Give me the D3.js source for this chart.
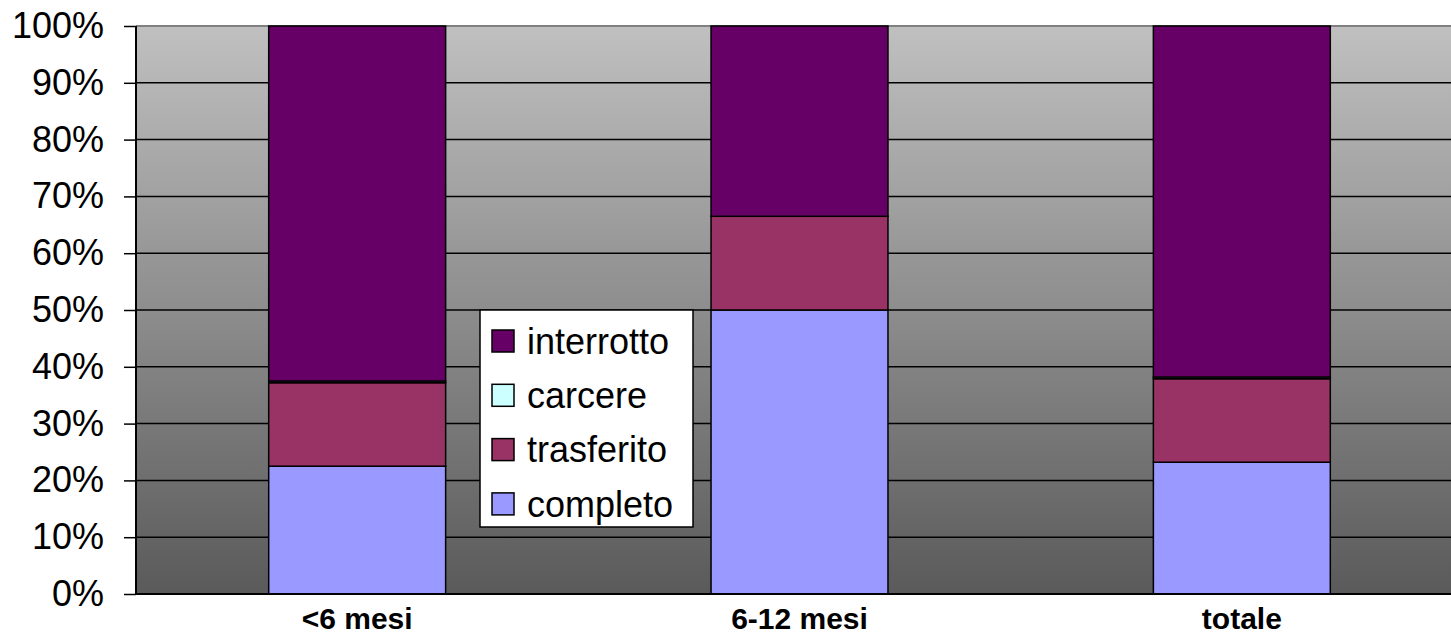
<!DOCTYPE html>
<html>
<head>
<meta charset="utf-8">
<script src="https://cdn.jsdelivr.net/npm/d3@7"></script>
<style>
  html, body { margin: 0; padding: 0; background: #fff; }
  svg { display: block; font-family: "Liberation Sans", Arial, sans-serif; }
</style>
</head>
<body>
<svg id="chart" width="1451" height="637"></svg>
<script>
(function () {
  'use strict';

  var categories = ['<6 mesi', '6-12 mesi', 'totale'];
  var completo   = [22.5, 50.0, 23.2];
  var trasferito = [14.7, 16.5, 14.7];
  var carcere    = [0.3, 0.0, 0.3];
  var interrotto = [62.5, 33.5, 61.8];
  var yTicks = [0, 10, 20, 30, 40, 50, 60, 70, 80, 90, 100];

  var SERIES = ['completo', 'trasferito', 'carcere', 'interrotto'];
  var COLOR = { completo: '#9999ff', trasferito: '#993366', carcere: '#ccffff', interrotto: '#660066' };
  var LEGEND_ORDER = ['interrotto', 'carcere', 'trasferito', 'completo'];

  var rows = categories.map(function (c, i) {
    return { cat: c, completo: completo[i], trasferito: trasferito[i], carcere: carcere[i], interrotto: interrotto[i] };
  });

  // plot area runs a little past the right edge of the picture
  var left = 136, top = 26, right = 1463, bottom = 594;
  var svg = d3.select('#chart');

  var x = d3.scaleBand().domain(categories).range([left, right]).paddingInner(0.6).paddingOuter(0.3);
  var y = d3.scaleLinear().domain([0, 100]).range([bottom, top]);

  // ── Plot background ─────────────────────────────────────────────────────────
  var grad = svg.append('defs').append('linearGradient')
    .attr('id', 'bg').attr('x1', 0).attr('y1', 0).attr('x2', 0).attr('y2', 1);
  grad.append('stop').attr('offset', '0%').attr('stop-color', '#c0c0c0');
  grad.append('stop').attr('offset', '100%').attr('stop-color', '#5a5a5a');

  svg.append('rect')
    .attr('x', left).attr('y', top)
    .attr('width', right - left).attr('height', bottom - top)
    .attr('fill', 'url(#bg)');

  // gridlines
  svg.append('g').selectAll('line')
    .data(yTicks.filter(function (t) { return t > 0 && t < 100; }))
    .join('line')
    .attr('x1', left).attr('x2', right)
    .attr('y1', function (d) { return y(d); }).attr('y2', function (d) { return y(d); })
    .attr('stroke', '#000').attr('stroke-width', 1.5);

  svg.append('line')
    .attr('x1', left).attr('x2', right).attr('y1', top).attr('y2', top)
    .attr('stroke', '#808080').attr('stroke-width', 2);

  // ── Bars ────────────────────────────────────────────────────────────────────
  var stacked = d3.stack().keys(SERIES)(rows);

  svg.append('g').selectAll('g')
    .data(stacked)
    .join('g')
    .attr('fill', function (s) { return COLOR[s.key]; })
    .selectAll('rect')
    .data(function (s) { return s; })
    .join('rect')
    .attr('x', function (d) { return x(d.data.cat); })
    .attr('width', x.bandwidth())
    .attr('y', function (d) { return y(d[1]); })
    .attr('height', function (d) { return y(d[0]) - y(d[1]); })
    .attr('stroke', '#000').attr('stroke-width', 1.5)
    .attr('display', function (d) { return d[1] - d[0] > 0 ? null : 'none'; });

  // ── Axes ────────────────────────────────────────────────────────────────────
  var yAxis = svg.append('g')
    .attr('transform', 'translate(' + left + ',0)')
    .call(d3.axisLeft(y).tickValues(yTicks).tickSize(12).tickPadding(20)
      .tickFormat(function (d) { return d + '%'; }));
  yAxis.select('.domain').attr('stroke', '#000').attr('stroke-width', 2).attr('d', 'M0,' + top + 'V' + bottom);
  yAxis.selectAll('.tick line').attr('stroke', '#000').attr('stroke-width', 1.5);
  yAxis.selectAll('.tick text').attr('font-size', 36).attr('fill', '#000')
    .attr('font-family', '"Liberation Sans", Arial, sans-serif');

  var xAxis = svg.append('g')
    .attr('transform', 'translate(0,' + bottom + ')')
    .call(d3.axisBottom(x).tickSize(0).tickPadding(14));
  xAxis.select('.domain').attr('stroke', '#000').attr('stroke-width', 2).attr('d', 'M' + left + ',0H' + right);
  xAxis.selectAll('.tick text').attr('font-size', 30).attr('font-weight', 'bold').attr('fill', '#000')
    .attr('font-family', '"Liberation Sans", Arial, sans-serif');

  // ── Legend ──────────────────────────────────────────────────────────────────
  var legend = svg.append('g').attr('transform', 'translate(480,310)');
  legend.append('rect')
    .attr('width', 213).attr('height', 217)
    .attr('fill', '#fff').attr('stroke', '#000').attr('stroke-width', 1.5);

  var item = legend.selectAll('g.item')
    .data(LEGEND_ORDER)
    .join('g')
    .attr('class', 'item')
    .attr('transform', function (d, i) { return 'translate(0,' + (31 + i * 54.3) + ')'; });

  item.append('rect')
    .attr('x', 12).attr('y', -11).attr('width', 22).attr('height', 22)
    .attr('fill', function (d) { return COLOR[d]; })
    .attr('stroke', '#000').attr('stroke-width', 1.5);

  item.append('text')
    .attr('x', 47).attr('dy', '0.35em')
    .attr('font-size', 36).attr('fill', '#000')
    .text(function (d) { return d; });
})();
</script>
</body>
</html>
